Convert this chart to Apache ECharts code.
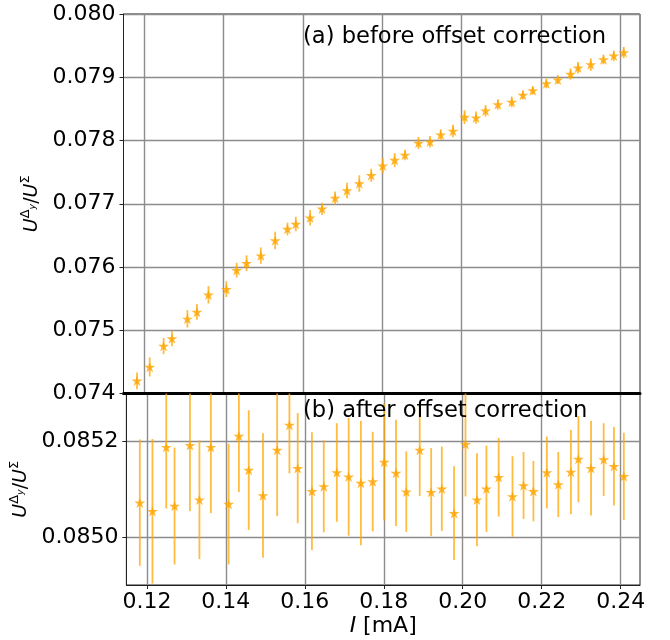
<!DOCTYPE html>
<html>
<head>
<meta charset="utf-8">
<script src="https://cdn.jsdelivr.net/npm/echarts@6.0.0/dist/echarts.min.js"></script>
<style>
  html, body { margin: 0; padding: 0; background: #fff; }
  #chart { width: 670px; height: 640px; }
</style>
</head>
<body>
<div id="chart"></div>
<script>
// current in mA
var current = [0.1182, 0.1214, 0.1249, 0.1270, 0.1309, 0.1333, 0.1362, 0.1407, 0.1433, 0.1458,
  0.1494, 0.1530, 0.1561, 0.1582, 0.1618, 0.1648, 0.1681, 0.1711, 0.1742, 0.1772,
  0.1801, 0.1831, 0.1857, 0.1891, 0.1920, 0.1947, 0.1978, 0.2007, 0.2036, 0.2060,
  0.2091, 0.2126, 0.2154, 0.2179, 0.2213, 0.2242, 0.2274, 0.2293, 0.2325, 0.2357,
  0.2383, 0.2408];

// (a) ratio before offset correction
var ratioBefore = [0.07420, 0.07442, 0.07475, 0.07487, 0.07518, 0.07529, 0.07556, 0.07565, 0.07595, 0.07606,
  0.07618, 0.07642, 0.07660, 0.07668, 0.07678, 0.07692, 0.07709, 0.07721, 0.07732, 0.07745,
  0.07760, 0.07769, 0.07777, 0.07796, 0.07798, 0.07809, 0.07815, 0.07837, 0.07836, 0.07847,
  0.07857, 0.07861, 0.07872, 0.07879, 0.07890, 0.07896, 0.07905, 0.07915, 0.07920, 0.07928,
  0.07934, 0.07939];

// (b) ratio after offset correction
var ratioAfter = [0.085072, 0.085054, 0.085188, 0.085065, 0.085192, 0.085078, 0.085188, 0.085069, 0.085211, 0.085140,
  0.085087, 0.085182, 0.085234, 0.085144, 0.085096, 0.085106, 0.085135, 0.085126, 0.085113, 0.085116,
  0.085157, 0.085134, 0.085095, 0.085182, 0.085094, 0.085101, 0.085050, 0.085194, 0.085078, 0.085101,
  0.085125, 0.085085, 0.085108, 0.085096, 0.085135, 0.085110, 0.085136, 0.085163, 0.085144, 0.085162,
  0.085148, 0.085127];

// uncertainty (same for both panels)
var ratioErr = [0.000132, 0.000151, 0.000128, 0.000122, 0.000138, 0.000124, 0.000138, 0.000126, 0.000117, 0.000125,
  0.000130, 0.000138, 0.000101, 0.000115, 0.000123, 0.000096, 0.000103, 0.000123, 0.000130, 0.000104,
  0.000122, 0.000111, 0.000084, 0.000096, 0.000092, 0.000088, 0.000098, 0.000109, 0.000097, 0.000090,
  0.000082, 0.000084, 0.000070, 0.000063, 0.000075, 0.000068, 0.000088, 0.000090, 0.000099, 0.000076,
  0.000082, 0.000091];

var xTicks = [0.12, 0.14, 0.16, 0.18, 0.20, 0.22, 0.24];
var yTicksB = [0.0850, 0.0852];

var FONT = 'DejaVu Sans';
var ORANGE = '#FFA500';
var STAR = 'path://M0,-100L22.45,-30.9L95.1,-30.9L36.3,11.8L58.8,80.9L0,38.2L-58.8,80.9L-36.3,11.8L-95.1,-30.9L-22.45,-30.9Z';

var chart = echarts.init(document.getElementById('chart'));

function pack(ys) {
  return current.map(function (x, i) { return [x, ys[i], ratioErr[i]]; });
}

function errorBar(params, api) {
  var x = api.value(0), y = api.value(1), e = api.value(2);
  var lo = api.coord([x, y - e]);
  var hi = api.coord([x, y + e]);
  var cs = params.coordSys;
  return {
    type: 'line',
    shape: {
      x1: lo[0], y1: Math.min(lo[1], cs.y + cs.height),
      x2: hi[0], y2: Math.max(hi[1], cs.y)
    },
    style: { stroke: 'rgba(255,165,0,0.75)', lineWidth: 1.8 }
  };
}

var yName = '{i|U}{sup|Δ}{sub|y}{n|/}{i|U}{sup|Σ}';
var yNameRich = {
  i: { fontFamily: FONT, fontStyle: 'italic', fontSize: 19, lineHeight: 26, color: '#000' },
  n: { fontFamily: FONT, fontSize: 19, lineHeight: 26, color: '#000' },
  sup: { fontFamily: FONT, fontSize: 13, verticalAlign: 'top', lineHeight: 26, color: '#000' },
  sub: { fontFamily: FONT, fontStyle: 'italic', fontSize: 9.5, verticalAlign: 'middle', lineHeight: 20, color: '#000' }
};

var gridLine = { show: true, lineStyle: { color: '#8c8c8c', width: 1.4 } };
var tickLabel = { fontFamily: FONT, fontSize: 22, color: '#000' };

var option = {
  animation: false,
  backgroundColor: '#fff',
  grid: [
    { left: 123.5, top: 14, width: 516.5, height: 379.5, show: true, borderColor: '#222', borderWidth: 1, backgroundColor: 'transparent' },
    { left: 123.5, top: 393.5, width: 516.5, height: 191.5, show: true, borderColor: '#222', borderWidth: 1, backgroundColor: 'transparent' }
  ],
  xAxis: [
    {
      type: 'value', gridIndex: 0, min: 0.1148, max: 0.2449,
      axisLine: { show: true, onZero: false, lineStyle: { color: '#000', width: 3 } },
      axisTick: { show: false, customValues: xTicks },
      axisLabel: { show: false, customValues: xTicks },
      splitLine: gridLine
    },
    {
      type: 'value', gridIndex: 1, min: 0.1148, max: 0.2449,
      name: '{i|I} [mA]', nameLocation: 'middle', nameGap: 30,
      nameTextStyle: {
        fontFamily: FONT, fontSize: 22, color: '#000',
        rich: { i: { fontFamily: FONT, fontStyle: 'italic', fontSize: 22, color: '#000' } }
      },
      axisLine: { show: true, onZero: false, lineStyle: { color: '#222', width: 1 } },
      axisTick: { show: true, length: 4, customValues: xTicks, lineStyle: { color: '#222' } },
      axisLabel: Object.assign({ margin: 6, customValues: xTicks, formatter: function (v) { return v.toFixed(2); } }, tickLabel),
      splitLine: gridLine
    }
  ],
  yAxis: [
    {
      type: 'value', gridIndex: 0, min: 0.074, max: 0.080, interval: 0.001,
      name: yName, nameLocation: 'middle', nameGap: 74, nameRotate: 90,
      nameTextStyle: { rich: yNameRich },
      axisLine: { show: true, lineStyle: { color: '#222', width: 1 } },
      axisTick: { show: true, length: 4, lineStyle: { color: '#222' } },
      axisLabel: Object.assign({ margin: 8, formatter: function (v) { return v.toFixed(3); } }, tickLabel),
      splitLine: gridLine
    },
    {
      type: 'value', gridIndex: 1, min: 0.0849, max: 0.0853,
      name: yName, nameLocation: 'middle', nameGap: 88, nameRotate: 90,
      nameTextStyle: { rich: yNameRich },
      axisLine: { show: true, lineStyle: { color: '#222', width: 1 } },
      axisTick: { show: true, length: 4, customValues: yTicksB, lineStyle: { color: '#222' } },
      axisLabel: Object.assign({ margin: 8, customValues: yTicksB, formatter: function (v) { return v.toFixed(4); } }, tickLabel),
      splitLine: gridLine
    }
  ],
  graphic: [
    { type: 'text', x: 303, y: 37, z: 100, style: { text: '(a) before offset correction', fontFamily: FONT, fontSize: 22.6, fill: '#000', verticalAlign: 'middle' } },
    { type: 'text', x: 303, y: 411, z: 100, style: { text: '(b) after offset correction', fontFamily: FONT, fontSize: 22.6, fill: '#000', verticalAlign: 'middle' } }
  ],
  series: [
    {
      type: 'custom', xAxisIndex: 0, yAxisIndex: 0, renderItem: errorBar,
      data: pack(ratioBefore), encode: { x: 0, y: 1 }, z: 3
    },
    {
      type: 'scatter', xAxisIndex: 0, yAxisIndex: 0, symbol: STAR, symbolSize: [11, 10.5],
      itemStyle: { color: ORANGE }, data: pack(ratioBefore), z: 4
    },
    {
      type: 'custom', xAxisIndex: 1, yAxisIndex: 1, renderItem: errorBar,
      data: pack(ratioAfter), encode: { x: 0, y: 1 }, z: 3
    },
    {
      type: 'scatter', xAxisIndex: 1, yAxisIndex: 1, symbol: STAR, symbolSize: [11, 10.5],
      itemStyle: { color: ORANGE }, data: pack(ratioAfter), z: 4
    }
  ]
};

chart.setOption(option);
</script>
</body>
</html>
